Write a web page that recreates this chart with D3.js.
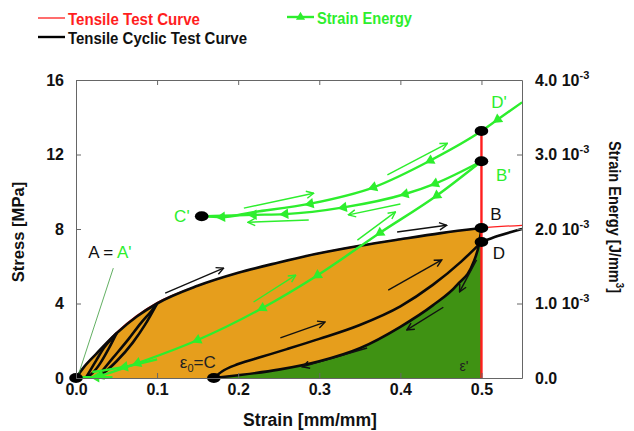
<!DOCTYPE html>
<html>
<head>
<meta charset="utf-8">
<script src="https://cdn.jsdelivr.net/npm/d3@7"></script>
<style>
  body { margin: 0; background: #fff; }
  text { font-family: "Liberation Sans", Arial, sans-serif; }
</style>
</head>
<body>
<svg id="chart" width="634" height="431"></svg>
<script>
// ---- data (strain in mm/mm, stress in MPa, energy in 1e-3 J/mm^3) ----
const envelopeStrain = [0, 0.01, 0.025, 0.05, 0.075, 0.1, 0.15, 0.2, 0.25, 0.3, 0.35, 0.4, 0.45, 0.5];
const envelopeStress = [0, 0.6, 1.3, 2.4, 3.3, 4.0, 4.95, 5.65, 6.2, 6.7, 7.1, 7.45, 7.78, 8.05];

const tensileStrain = [0, 0.01, 0.025, 0.05, 0.075, 0.1, 0.15, 0.2, 0.25, 0.3, 0.35, 0.4, 0.45, 0.5, 0.55];
const tensileStress = [0, 0.6, 1.3, 2.45, 3.35, 4.05, 4.95, 5.65, 6.2, 6.7, 7.1, 7.45, 7.78, 8.05, 8.2];

const cycle1UnloadStrain = [0.012, 0.02, 0.03, 0.04, 0.05];
const cycle1UnloadStress = [0, 0.25, 0.8, 1.55, 2.4];
const cycle1ReloadStrain = [0.012, 0.025, 0.035, 0.045, 0.05];
const cycle1ReloadStress = [0, 0.95, 1.65, 2.15, 2.4];

const cycle2UnloadStrain = [0.025, 0.035, 0.05, 0.07, 0.085, 0.1];
const cycle2UnloadStress = [0, 0.3, 0.9, 1.9, 2.85, 4.0];
const cycle2ReloadStrain = [0.025, 0.045, 0.065, 0.08, 0.093, 0.1];
const cycle2ReloadStress = [0, 1.05, 2.1, 2.95, 3.6, 4.0];

// last cycle: unloading B -> C, reloading C -> D, then continuation
const unloadStrain = [0.17, 0.2, 0.25, 0.3, 0.35, 0.4, 0.44, 0.47, 0.49, 0.497, 0.5];
const unloadStress = [0, 0.15, 0.45, 0.9, 1.6, 2.75, 3.9, 5.0, 6.2, 7.2, 8.05];
const reloadStrain = [0.17, 0.18, 0.2, 0.23, 0.26, 0.3, 0.35, 0.4, 0.44, 0.475, 0.5];
const reloadStress = [0, 0.35, 0.75, 1.15, 1.55, 2.1, 2.85, 3.85, 5.0, 6.25, 7.3];
const tailStrain = [0.5, 0.52, 0.55];
const tailStress = [7.3, 7.62, 8.0];

// strain energy curves
const energyLoadStrain = [0.02, 0.03, 0.076, 0.15, 0.23, 0.298, 0.375, 0.445, 0.5];
const energyLoadValue = [0.0, 0.03, 0.2, 0.51, 0.94, 1.38, 1.95, 2.45, 2.91];
const energyUnloadStrain = [0.155, 0.219, 0.258, 0.33, 0.406, 0.443, 0.5];
const energyUnloadValue = [2.17, 2.19, 2.2, 2.29, 2.47, 2.61, 2.91];
const energyReloadStrain = [0.155, 0.18, 0.215, 0.289, 0.367, 0.437, 0.5, 0.52, 0.55];
const energyReloadValue = [2.17, 2.16, 2.22, 2.34, 2.56, 2.92, 3.315, 3.47, 3.7];
const energySmallStrain = [0.005, 0.025, 0.045];
const energySmallValue = [0.01, 0.01, 0.01];
const energySmall2Strain = [0.02, 0.06, 0.1];
const energySmall2Value = [0.08, 0.15, 0.25];

const xTicks = [0, 0.1, 0.2, 0.3, 0.4, 0.5];
const yTicks = [0, 4, 8, 12, 16];
const eTicks = [0, 1, 2, 3, 4];

const zip = (xs, ys) => xs.map((v, i) => [v, ys[i]]);

const svg = d3.select("#chart");
const x = d3.scaleLinear([0, 0.55], [76, 522]);
const y = d3.scaleLinear([0, 16], [378, 80]);
const yE = d3.scaleLinear([0, 4], [378, 80]);

const ORANGE = "#E69E1C";
const DKGREEN = "#3F9213";
const LIME = "#2DEE2D";
const RED = "#FF1E1E";

const defs = svg.append("defs");
function arrowMarker(id, color) {
  defs.append("marker")
    .attr("id", id)
    .attr("viewBox", "0 0 10 10")
    .attr("refX", 9).attr("refY", 5)
    .attr("markerWidth", 9).attr("markerHeight", 9)
    .attr("markerUnits", "userSpaceOnUse")
    .attr("orient", "auto")
    .append("path")
    .attr("d", "M1,1 L9,5 L1,9")
    .attr("fill", "none")
    .attr("stroke", color)
    .attr("stroke-width", 1.6);
}
arrowMarker("arrBlack", "#111");
arrowMarker("arrGreen", LIME);

const stressLine = d3.line().x(d => x(d[0])).y(d => y(d[1])).curve(d3.curveMonotoneX);
const energyLine = d3.line().x(d => x(d[0])).y(d => yE(d[1])).curve(d3.curveMonotoneX);

// fills
svg.append("path")
  .attr("d", d3.area().x(d => x(d[0])).y0(y(0)).y1(d => y(d[1])).curve(d3.curveMonotoneX)(zip(envelopeStrain, envelopeStress)))
  .attr("fill", ORANGE);
svg.append("path")
  .attr("d", d3.area().x(d => x(d[0])).y0(y(0)).y1(d => y(d[1])).curve(d3.curveMonotoneX)(zip(unloadStrain, unloadStress)))
  .attr("fill", DKGREEN);

// tensile test curve (red, thin)
svg.append("path")
  .attr("d", stressLine(zip(tensileStrain, tensileStress)))
  .attr("fill", "none").attr("stroke", RED).attr("stroke-width", 1.3);

// cyclic curves (black)
[
  zip(envelopeStrain, envelopeStress),
  zip(cycle1UnloadStrain, cycle1UnloadStress),
  zip(cycle1ReloadStrain, cycle1ReloadStress),
  zip(cycle2UnloadStrain, cycle2UnloadStress),
  zip(cycle2ReloadStrain, cycle2ReloadStress),
  zip(unloadStrain, unloadStress),
  zip(reloadStrain, reloadStress),
  zip(tailStrain, tailStress)
].forEach(pts => {
  svg.append("path")
    .attr("d", stressLine(pts))
    .attr("fill", "none").attr("stroke", "#0a0a0a").attr("stroke-width", 2.6);
});

// red vertical at the strain reversal point
svg.append("line")
  .attr("x1", x(0.5)).attr("x2", x(0.5))
  .attr("y1", y(0)).attr("y2", yE(energyReloadValue[6]))
  .attr("stroke", RED).attr("stroke-width", 2.4);

// strain energy curves
const energySeries = [
  { pts: zip(energyLoadStrain, energyLoadValue), marks: [1, 2, 3, 4, 5, 6, 7] },
  { pts: zip(energyUnloadStrain, energyUnloadValue), marks: [1, 2, 3, 4, 5] },
  { pts: zip(energyReloadStrain, energyReloadValue), marks: [1, 3, 4, 5, 7] },
  { pts: zip(energySmallStrain, energySmallValue), marks: [1] },
  { pts: zip(energySmall2Strain, energySmall2Value), marks: [1] }
];
energySeries.forEach(s => {
  svg.append("path")
    .attr("d", energyLine(s.pts))
    .attr("fill", "none").attr("stroke", LIME).attr("stroke-width", 2.4);
  s.marks.forEach(i => {
    const a = s.pts[i - 1], b = s.pts[i + 1];
    const ang = Math.atan2(yE(a[1]) - yE(b[1]), x(a[0]) - x(b[0])) * 180 / Math.PI;
    svg.append("path")
      .attr("d", d3.symbol(d3.symbolTriangle, 48)())
      .attr("transform", `translate(${x(s.pts[i][0])},${yE(s.pts[i][1])}) rotate(${ang + 90})`)
      .attr("fill", LIME);
  });
});

// direction arrows: [x1, v1, x2, v2]
const blackArrows = [
  [0.11, 4.56, 0.182, 5.9],
  [0.396, 7.84, 0.457, 8.2],
  [0.385, 4.72, 0.451, 6.34],
  [0.252, 2.15, 0.307, 3.0],
  [0.359, 1.61, 0.279, 0.6],
  [0.453, 3.8, 0.408, 2.58],
  [0.494, 6.34, 0.473, 4.62]
];
const greenArrows = [
  [0.384, 2.725, 0.458, 3.15],
  [0.207, 2.28, 0.293, 2.48],
  [0.287, 2.12, 0.212, 2.09],
  [0.40, 2.335, 0.336, 2.19],
  [0.347, 1.85, 0.394, 2.23],
  [0.219, 1.02, 0.271, 1.38]
];
svg.selectAll(".arrB").data(blackArrows).join("line")
  .attr("class", "arrB")
  .attr("x1", d => x(d[0])).attr("y1", d => y(d[1]))
  .attr("x2", d => x(d[2])).attr("y2", d => y(d[3]))
  .attr("stroke", "#111").attr("stroke-width", 1.4)
  .attr("marker-end", "url(#arrBlack)");
svg.selectAll(".arrG").data(greenArrows).join("line")
  .attr("class", "arrG")
  .attr("x1", d => x(d[0])).attr("y1", d => yE(d[1]))
  .attr("x2", d => x(d[2])).attr("y2", d => yE(d[3]))
  .attr("stroke", LIME).attr("stroke-width", 1.4)
  .attr("marker-end", "url(#arrGreen)");

// leader for A = A'
svg.append("line")
  .attr("x1", x(0.046)).attr("y1", y(5.9))
  .attr("x2", x(0.002)).attr("y2", y(0.05))
  .attr("stroke", "#3a9a3a").attr("stroke-width", 0.8);

// key points (black dots)
const dots = [
  [0, 0, "s"], [0.17, 0, "s"], [0.5, 8.05, "s"], [0.5, 7.3, "s"],
  [0.5, 2.91, "e"], [0.5, 3.315, "e"], [0.155, 2.17, "e"]
];
svg.selectAll(".dot").data(dots).join("ellipse")
  .attr("class", "dot")
  .attr("cx", d => x(d[0]))
  .attr("cy", d => d[2] === "s" ? y(d[1]) : yE(d[1]))
  .attr("rx", 6.8).attr("ry", 5)
  .attr("fill", "#000");

// point labels
const lbl = (tx, ty, str, color, size) => svg.append("text")
  .attr("x", tx).attr("y", ty).attr("fill", color)
  .attr("font-size", size || 17).text(str);
lbl(x(0.511), y(8.5), "B", "#111");
lbl(x(0.514), y(6.4), "D", "#111");
lbl(x(0.518), yE(2.64), "B'", LIME);
lbl(x(0.512), yE(3.62), "D'", LIME);
lbl(x(0.121), yE(2.095), "C'", LIME);
const aLbl = lbl(x(0.015), y(6.45), "A = ", "#111");
aLbl.append("tspan").attr("fill", LIME).text("A'");
const eps0 = lbl(x(0.128), y(0.55), "\u03b5", "#222", 17);
eps0.append("tspan").attr("font-size", 11).attr("dy", 4).text("0");
eps0.append("tspan").attr("dy", -4).text("=C");
lbl(x(0.473), y(0.35), "\u03b5'", "#222", 14);

// axes
const axisColor = "#666";
const styleAxis = g => {
  g.select(".domain").attr("stroke", axisColor);
  g.selectAll(".tick line").attr("stroke", axisColor);
  g.selectAll("text").attr("font-size", 16).attr("font-weight", "bold")
    .attr("font-family", "Liberation Sans, Arial, sans-serif").attr("fill", "#111");
};
svg.append("g").attr("transform", `translate(0,${y(0)})`)
  .call(d3.axisBottom(x).tickValues(xTicks).tickFormat(d3.format(".1f")).tickSize(-5).tickPadding(6).tickSizeOuter(0))
  .call(styleAxis);
svg.append("g").attr("transform", `translate(0,${y(16)})`)
  .call(d3.axisTop(x).tickValues(xTicks).tickFormat("").tickSize(-5).tickSizeOuter(0))
  .call(styleAxis);
svg.append("g").attr("transform", `translate(${x(0)},0)`)
  .call(d3.axisLeft(y).tickValues(yTicks).tickSize(-5).tickPadding(12).tickSizeOuter(0))
  .call(styleAxis);
const right = svg.append("g").attr("transform", `translate(${x(0.55)},0)`)
  .call(d3.axisRight(yE).tickValues(eTicks).tickSize(-5).tickPadding(13).tickSizeOuter(0))
  .call(styleAxis);
right.selectAll(".tick text").each(function(d) {
  const t = d3.select(this).text(null);
  if (d === 0) { t.text("0.0"); return; }
  t.append("tspan").text(d3.format(".1f")(d) + " 10");
  t.append("tspan").attr("dy", -7).attr("font-size", 11).text("-3");
});

// axis titles
svg.append("text")
  .attr("transform", `translate(24,${(y(0) + y(16)) / 2 + 3}) rotate(-90)`)
  .attr("text-anchor", "middle").attr("font-size", 16.6).attr("font-weight", "bold")
  .attr("fill", "#111").text("Stress [MPa]");
svg.append("text")
  .attr("x", 310).attr("y", 426)
  .attr("text-anchor", "middle").attr("font-size", 17.6).attr("font-weight", "bold")
  .attr("fill", "#111").text("Strain [mm/mm]");
const et = svg.append("text")
  .attr("transform", `translate(609,${(y(0) + y(16)) / 2 - 12}) rotate(90) scale(0.88,1)`)
  .attr("text-anchor", "middle").attr("font-size", 16.6).attr("font-weight", "bold")
  .attr("fill", "#111");
et.append("tspan").text("Strain Energy [J/mm");
et.append("tspan").attr("dy", -7).attr("font-size", 11).text("3");
et.append("tspan").attr("dy", 7).text("]");

// legend
const legend = [
  { label: "Tensile Test Curve", color: RED, x: 38, y: 18, w: 1.3, marker: false, len: 132 },
  { label: "Tensile Cyclic Test Curve", color: "#000", x: 38, y: 37, w: 2.4, marker: false, len: 179 },
  { label: "Strain Energy", color: LIME, x: 287, y: 17, w: 2.4, marker: true, len: 95 }
];
legend.forEach(l => {
  svg.append("line").attr("x1", l.x).attr("x2", l.x + 27).attr("y1", l.y).attr("y2", l.y)
    .attr("stroke", l.color).attr("stroke-width", l.w);
  if (l.marker) {
    svg.append("path").attr("d", d3.symbol(d3.symbolTriangle, 36)())
      .attr("transform", `translate(${l.x + 13.5},${l.y})`).attr("fill", l.color);
  }
  svg.append("text").attr("x", l.x + 30).attr("y", l.y + 7)
    .attr("font-size", 17).attr("font-weight", "bold").attr("fill", l.color === "#000" ? "#111" : l.color)
    .attr("textLength", l.len).attr("lengthAdjust", "spacingAndGlyphs")
    .text(l.label);
});
</script>
</body>
</html>
